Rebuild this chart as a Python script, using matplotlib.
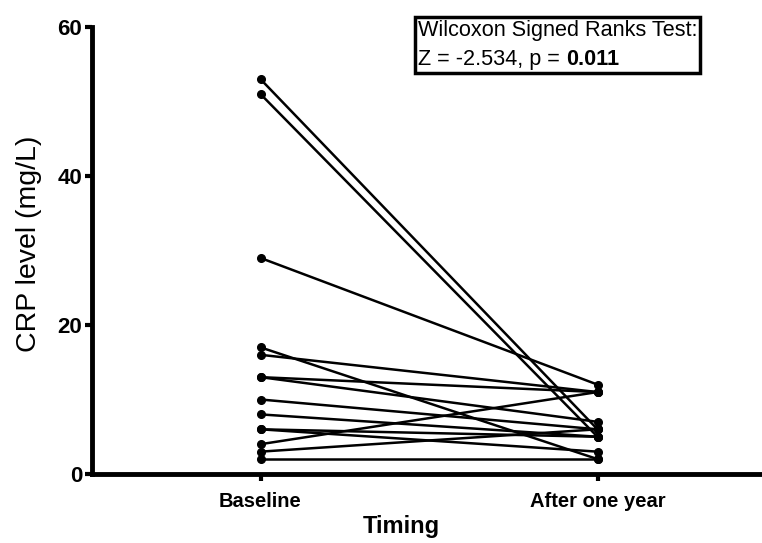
import matplotlib
matplotlib.use("Agg")
import matplotlib.pyplot as plt
from matplotlib.offsetbox import TextArea, HPacker, VPacker, AnchoredOffsetbox

plt.rcParams["font.family"] = ["Liberation Sans", "DejaVu Sans"]

# ── data ──────────────────────────────────────────────────────────────────────
timepoints = ["Baseline", "After one year"]
crp_baseline = [53, 51, 29, 17, 16, 13, 13, 10, 8, 6, 6, 4, 3, 2]
crp_one_year = [6, 5, 12, 2, 11, 11, 7, 6, 5, 5, 3, 11, 6, 2]
y_ticks = [0, 20, 40, 60]
stat_title = "Wilcoxon Signed Ranks Test:"
stat_text = "Z = -2.534, p = "
stat_p = "0.011"

# ── figure ────────────────────────────────────────────────────────────────────
W, H = 762, 543
fig = plt.figure(figsize=(W / 100, H / 100), dpi=100)
ax = fig.add_axes([92 / W, 1 - 474 / H, 674 / W, (474 - 27) / H])

x = list(range(len(timepoints)))
for b, a in zip(crp_baseline, crp_one_year):
    ax.plot(x, [b, a], "o-", color="black", lw=1.8, ms=5.5, clip_on=False)

ax.set_xlim(-0.5, 1.5)
ax.set_ylim(0, 60)
ax.set_yticks(y_ticks)
ax.set_xticks(x)
ax.set_xticklabels(timepoints, fontsize=14.5, fontweight="bold")
for lbl in ax.get_yticklabels():
    lbl.set_fontsize(16)
    lbl.set_fontweight("bold")

for side in ["top", "right"]:
    ax.spines[side].set_visible(False)
for side in ["left", "bottom"]:
    ax.spines[side].set_linewidth(3.5)
ax.tick_params(axis="both", width=3, length=5)
ax.tick_params(axis="x", pad=8)
ax.tick_params(axis="y", pad=2)

ax.set_ylabel("CRP level (mg/L)", fontsize=20.5, va="center")
ax.yaxis.set_label_coords(29 / W, 1 - 244 / H, transform=fig.transFigure)
ax.set_xlabel("Timing", fontsize=17, fontweight="bold", va="center")
ax.xaxis.set_label_coords(401 / W, 1 - 527 / H, transform=fig.transFigure)

# stats box
line1 = TextArea(stat_title, textprops=dict(fontsize=15.6))
line2 = HPacker(children=[TextArea(stat_text, textprops=dict(fontsize=15.6)),
                          TextArea(stat_p, textprops=dict(fontsize=15.6, fontweight="bold"))],
                align="baseline", pad=0, sep=0)
box = VPacker(children=[line1, line2], align="left", pad=0, sep=6)
anch = AnchoredOffsetbox(loc="upper left", child=box, pad=0.2, borderpad=0,
                         frameon=True, bbox_to_anchor=(415 / W, 1 - 17 / H),
                         bbox_transform=fig.transFigure)
anch.patch.set_linewidth(2.5)
anch.patch.set_edgecolor("black")
anch.patch.set_boxstyle("square", pad=0)
ax.add_artist(anch)

fig.savefig("out.png", dpi=100)
